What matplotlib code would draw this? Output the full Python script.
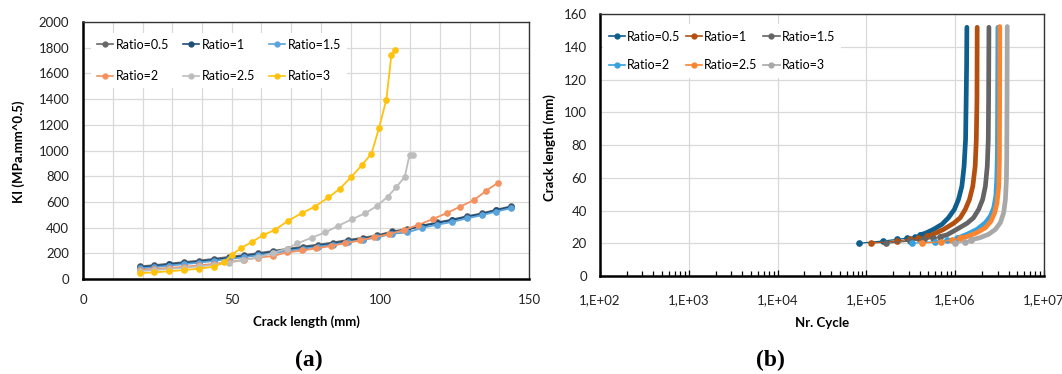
import math
import matplotlib
matplotlib.use("Agg")
import matplotlib.pyplot as plt
from matplotlib.ticker import MultipleLocator, FixedLocator, LogLocator, FuncFormatter, NullFormatter

plt.rcParams['font.family'] = ['Lato', 'DejaVu Sans']
plt.rcParams['font.size'] = 9.5

# ---- (a) stress intensity factor vs crack length ----
ratios = ['Ratio=0.5', 'Ratio=1', 'Ratio=1.5', 'Ratio=2', 'Ratio=2.5', 'Ratio=3']
colors_a = ['#686868', '#1F4E79', '#5BA3DB', '#F4915E', '#BDBDBD', '#FFC20E']

len_step = [19, 24, 29, 34, 39, 44, 49, 54, 59, 64, 69, 74, 79, 84, 89, 94, 99,
            104, 109, 114, 119, 124, 129, 134, 139, 144]
ki_05 = [98, 108, 120, 132, 143, 157, 172, 186, 202, 219, 236, 253, 268, 284, 304,
         321, 341, 370, 390, 416, 440, 462, 488, 510, 540, 566]
ki_1 = [91, 101, 113, 125, 136, 150, 164, 178, 194, 211, 228, 245, 260, 276, 296,
        313, 333, 365, 385, 412, 436, 458, 484, 506, 535, 562]
ki_15 = [82, 92, 104, 116, 127, 141, 155, 169, 185, 202, 219, 236, 251, 267, 287,
         304, 324, 353, 362, 398, 422, 444, 472, 496, 525, 552]

len_2 = [19, 24, 29, 34, 39, 44, 49, 54, 59, 64, 68.6, 73.7, 78.4, 83.3, 88.2, 93.1,
         98, 102.9, 108.1, 112.8, 117.8, 122.5, 126.9, 131.6, 135.6, 139.6]
ki_2 = [70, 78, 86, 95, 106, 118, 132, 150, 166, 180, 207, 222, 238, 256, 279, 300,
        326, 349, 383, 422, 468, 515, 564, 616, 688, 750]

len_25 = [19, 24, 29, 34, 39, 44, 49, 53.8, 58.9, 63.8, 68.5, 72.1, 76.9, 81.4, 85.9,
          90.4, 94.9, 98.8, 102.5, 105.3, 108.2, 109.8, 111]
ki_25 = [62, 70, 78, 88, 98, 110, 128, 146, 168, 202, 236, 277, 322, 362, 415, 465,
         512, 568, 642, 714, 795, 968, 968]

len_3 = [19, 24, 29, 34, 39, 44, 47.5, 50, 53.2, 56.8, 60.6, 64.6, 69, 73.5, 78, 82.5,
         86.4, 90.1, 93.7, 97, 99.5, 102, 103.7, 105]
ki_3 = [45, 52, 60, 70, 80, 96, 130, 188, 242, 289, 341, 384, 454, 512, 564, 635, 704,
        792, 885, 976, 1172, 1397, 1746, 1780]

series_a = [(len_step, ki_05), (len_step, ki_1), (len_step, ki_15),
            (len_2, ki_2), (len_25, ki_25), (len_3, ki_3)]

# ---- (b) crack length vs number of cycles ----
colors_b = ['#0E5F8E', '#B4500F', '#646464', '#35A2DE', '#FB8530', '#A8A8A8']

n_05 = [8.2e4, 1.55e5, 2.24e5, 2.89e5, 3.49e5, 4.0e5, 4.6e5, 5.7e5, 7.1e5, 8.4e5,
        9.8e5, 1.09e6, 1.19e6, 1.26e6, 1.31e6, 1.33e6, 1.345e6, 1.355e6]
a_05 = [20, 21.4, 22.4, 23.2, 24.1, 25.1, 26.1, 28.5, 31.6, 35.6, 40.7, 46.8, 54.9,
        67.1, 83.4, 107.7, 128, 152]
n_1 = [1.14e5, 2.19e5, 3.09e5, 3.85e5, 4.78e5, 5.58e5, 7.4e5, 9.6e5, 1.14e6, 1.30e6,
       1.45e6, 1.58e6, 1.68e6, 1.73e6, 1.76e6, 1.765e6, 1.77e6]
a_1 = [20, 21.4, 22.4, 23.2, 24.3, 25.3, 28.5, 32.2, 35.6, 40.7, 46.8, 54.9, 67.1,
       83.4, 107.7, 128, 152]
n_15 = [1.66e5, 3.09e5, 4.45e5, 5.7e5, 6.77e5, 8.05e5, 1.04e6, 1.36e6, 1.61e6, 1.84e6,
        2.04e6, 2.19e6, 2.30e6, 2.36e6, 2.38e6, 2.39e6, 2.40e6]
a_15 = [20, 21.4, 22.4, 23.2, 24.1, 25.1, 28.5, 32.2, 35.6, 40.7, 46.8, 54.9, 67.1,
        83.4, 107.7, 128, 152]
n_2 = [3.29e5, 5.9e5, 8.1e5, 1.05e6, 1.36e6, 1.76e6, 2.19e6, 2.49e6, 2.72e6, 2.87e6,
       2.94e6, 2.99e6, 3.01e6, 3.02e6, 3.03e6]
a_2 = [20, 21, 22, 23, 25.5, 28.5, 32.6, 36.6, 41.7, 48.8, 59, 75.2, 107.7, 128, 152]
n_25 = [4.2e5, 6.95e5, 9.2e5, 1.14e6, 1.36e6, 1.76e6, 2.19e6, 2.54e6, 2.79e6, 2.96e6,
        3.10e6, 3.15e6, 3.17e6, 3.175e6, 3.18e6]
a_25 = [20, 21, 22, 23, 24.1, 26.5, 29.5, 33.6, 38.7, 44.8, 54.9, 71.2, 107.7, 128, 152.5]
n_3 = [1.0e6, 1.28e6, 1.5e6, 1.92e6, 2.38e6, 2.84e6, 3.23e6, 3.52e6, 3.68e6, 3.78e6,
       3.81e6, 3.84e6, 3.85e6, 3.86e6]
a_3 = [20, 21, 22, 23.5, 25.5, 28.5, 32.6, 38.7, 46.8, 59, 75.2, 107.7, 128, 152.5]

series_b = [(n_05, a_05), (n_1, a_1), (n_15, a_15), (n_2, a_2), (n_25, a_25), (n_3, a_3)]
# index from which the output points are so dense they merge into a thick band
dense_from = [5, 4, 4, 3, 3, 2]

# legend entries go row by row: 0.5, 1, 1.5 / 2, 2.5, 3
leg_order = [0, 3, 1, 4, 2, 5]

fig = plt.figure(figsize=(10.62, 3.74), dpi=100)
ax1 = fig.add_axes([0.0782, 0.254, 0.420, 0.687])
ax2 = fig.add_axes([0.565, 0.262, 0.418, 0.700])

grid_kw = dict(color='#D9D9D9', lw=0.9)
leg_kw = dict(ncol=3, loc='upper left', borderaxespad=0, fontsize=9,
              handlelength=1.3, borderpad=0.5, fancybox=False,
              framealpha=1, edgecolor='none', facecolor='white')


def ordered_legend(ax, handles, anchor, **kw):
    h = [handles[i] for i in leg_order]
    labels = [ratios[i] for i in leg_order]
    leg = ax.legend(h, labels, bbox_to_anchor=anchor, bbox_transform=fig.transFigure,
                    **leg_kw, **kw)
    for lh in leg.legend_handles:
        lh.set_linewidth(1.2)
        lh.set_markersize(3.5)
    return leg


# panel (a)
handles_a = []
for (x, y), c, lab in zip(series_a, colors_a, ratios):
    ln, = ax1.plot(x, y, '-o', color=c, lw=1.3, ms=3.8, label=lab, zorder=3)
    handles_a.append(ln)
ax1.set_xlim(0, 150)
ax1.set_ylim(0, 2000)
ax1.xaxis.set_major_locator(MultipleLocator(50))
ax1.xaxis.set_minor_locator(MultipleLocator(10))
ax1.yaxis.set_major_locator(MultipleLocator(200))
ax1.grid(True, which='both', **grid_kw)
ax1.set_axisbelow(True)
ax1.tick_params(which='both', length=0, labelcolor='#222222')
ax1.tick_params(axis='y', pad=10)
ax1.tick_params(axis='x', pad=11)
ax1.set_xlabel('Crack length (mm)', fontweight='bold', va='center')
ax1.xaxis.set_label_coords(0.5, -0.166)
ax1.set_ylabel('KI (MPa.mm^0.5)', fontweight='bold', va='center')
ax1.yaxis.set_label_coords(-0.1435, 0.494)
ordered_legend(ax1, handles_a, (0.0855, 0.913), handletextpad=0.2,
               columnspacing=1.1, labelspacing=1.55)

# panel (b)
handles_b = []
for (n, a), c, lab, k in zip(series_b, colors_b, ratios, dense_from):
    ln, = ax2.plot(n[:k + 1], a[:k + 1], '-o', color=c, lw=0.9, ms=3.8, zorder=3)
    ax2.plot(n[k:], a[k:], '-', color=c, lw=3.4, solid_capstyle='round',
             solid_joinstyle='round', zorder=3)
    handles_b.append(ln)
ax2.set_xscale('log')
ax2.set_xlim(1e2, 1e7)
ax2.set_ylim(0, 160)
ax2.yaxis.set_major_locator(MultipleLocator(20))
ax2.xaxis.set_major_locator(FixedLocator([1e2, 1e3, 1e4, 1e5, 1e6, 1e7]))
ax2.xaxis.set_minor_locator(LogLocator(base=10, subs=range(2, 10)))
ax2.xaxis.set_minor_formatter(NullFormatter())
ax2.xaxis.set_major_formatter(FuncFormatter(lambda v, p: '1,E+%02d' % round(math.log10(v))))
ax2.grid(True, which='major', **grid_kw)
ax2.set_axisbelow(True)
ax2.tick_params(axis='y', length=0, pad=9.5, labelcolor='#222222')
ax2.tick_params(axis='x', which='major', direction='in', length=4, width=0.9,
                pad=13, labelcolor='#222222')
ax2.tick_params(axis='x', which='minor', direction='in', length=3.5, width=0.9)
ax2.set_xlabel('Nr. Cycle', fontweight='bold', va='center')
ax2.xaxis.set_label_coords(0.5, -0.1796)
ax2.set_ylabel('Crack length (mm)', fontweight='bold', va='center')
ax2.yaxis.set_label_coords(-0.1126, 0.489)
ordered_legend(ax2, handles_b, (0.5676, 0.935), handletextpad=0.15,
               columnspacing=0.45, labelspacing=1.35)

for ax in (ax1, ax2):
    for side in ('left', 'bottom'):
        ax.spines[side].set_linewidth(1.8)
        ax.spines[side].set_color('black')
    for side in ('top', 'right'):
        ax.spines[side].set_linewidth(1.0)
        ax.spines[side].set_color('#333333')

fig.text(0.291, 1 - 360 / 374, '(a)', ha='center', va='center', fontsize=17,
         fontweight='bold', family=['Liberation Serif', 'DejaVu Serif'])
fig.text(0.725, 1 - 360 / 374, '(b)', ha='center', va='center', fontsize=17,
         fontweight='bold', family=['Liberation Serif', 'DejaVu Serif'])

fig.savefig('out.png', dpi=100, facecolor='white')
